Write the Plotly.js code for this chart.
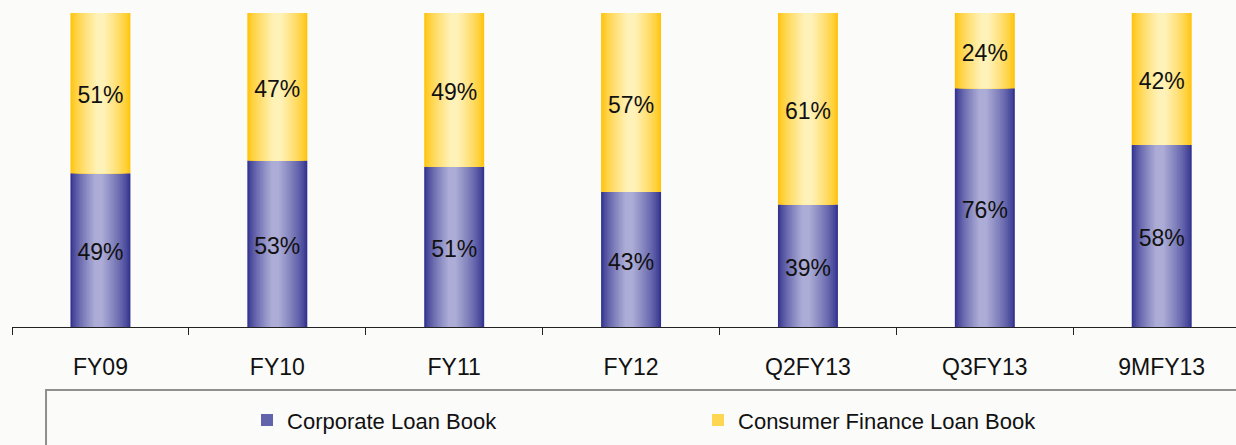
<!DOCTYPE html>
<html>
<head>
<meta charset="utf-8">
<script src="https://cdn.plot.ly/plotly-3.0.1.min.js"></script>
<style>
  html, body { margin: 0; padding: 0; background: #fbfbfa; }
  #chart { width: 1236px; height: 445px; }
</style>
</head>
<body>
<div id="chart"></div>
<script>
// ---- data ----
const categories = ['FY09', 'FY10', 'FY11', 'FY12', 'Q2FY13', 'Q3FY13', '9MFY13'];
const corporateLoanBook = [49, 53, 51, 43, 39, 76, 58];
const consumerFinanceLoanBook = [51, 47, 49, 57, 61, 24, 42];
const seriesNames = ['Corporate Loan Book', 'Consumer Finance Loan Book'];

// ---- styling ----
const BAR_W = 0.339;
const N_LAYERS = 18;
const LABEL_SHIFT = -1.4; // small downward nudge of value labels (axis units)
const blueEdge = [50, 50, 143], blueLight = [172, 172, 214];
const yellowEdge = [255, 196, 14], yellowLight = [255, 242, 184];

function mix(a, b, t) {
  return 'rgb(' + a.map((v, i) => Math.round(v + (b[i] - v) * t)).join(',') + ')';
}

const traces = [];
function addGradientBars(values, bases, edge, light, name, legendRank, peak) {
  for (let i = 0; i < N_LAYERS; i++) {
    const f = i / (N_LAYERS - 1);
    const t = Math.pow(f, 0.75);
    const w = BAR_W * (1 - 0.86 * f);
    traces.push({
      type: 'bar',
      x: categories,
      y: values,
      base: bases,
      width: w,
      offset: -BAR_W / 2 + (BAR_W - w) * peak,
      name: name,
      legendrank: legendRank,
      marker: { color: mix(edge, light, t), line: { width: 0 } },
      showlegend: i === 5,
      hoverinfo: 'skip'
    });
  }
}
const zeros = categories.map(() => 0);
addGradientBars(corporateLoanBook, zeros, blueEdge, blueLight, seriesNames[0], 1, 0.46);
addGradientBars(consumerFinanceLoanBook, corporateLoanBook, yellowEdge, yellowLight, seriesNames[1], 2, 0.5);

// value labels centred in each segment
const labelFont = { family: 'Liberation Sans, Arial, sans-serif', size: 23, color: '#111' };
traces.push({
  type: 'scatter', mode: 'text', x: categories,
  y: corporateLoanBook.map(v => v / 2 + LABEL_SHIFT),
  text: corporateLoanBook.map(v => v + '%'),
  textfont: labelFont,
  showlegend: false, hoverinfo: 'skip', cliponaxis: false
});
traces.push({
  type: 'scatter', mode: 'text', x: categories,
  y: consumerFinanceLoanBook.map((v, i) => corporateLoanBook[i] + v / 2 + LABEL_SHIFT),
  text: consumerFinanceLoanBook.map(v => v + '%'),
  textfont: labelFont,
  showlegend: false, hoverinfo: 'skip', cliponaxis: false
});

const layout = {
  width: 1236, height: 445,
  margin: { l: 12, r: 0, t: 13, b: 118 },
  paper_bgcolor: '#fbfbfa',
  plot_bgcolor: 'rgba(0,0,0,0)',
  barmode: 'overlay',
  font: { family: 'Liberation Sans, Arial, sans-serif', size: 22, color: '#111' },
  xaxis: {
    type: 'category',
    range: [-0.5, 6.42],
    showline: true, linecolor: '#222', linewidth: 1,
    ticks: 'outside', tickson: 'boundaries', ticklen: 7, tickcolor: '#222', tickwidth: 1,
    ticklabelstandoff: 19,
    tickfont: { size: 23, color: '#111' },
    showgrid: false, zeroline: false, fixedrange: true
  },
  yaxis: {
    range: [0, 100], visible: false, showgrid: false, zeroline: false, fixedrange: true
  },
  showlegend: true,
  legend: {
    orientation: 'h',
    x: 0.192, xanchor: 'left',
    y: -0.23, yanchor: 'top',
    bgcolor: 'rgba(0,0,0,0)', borderwidth: 0,
    entrywidth: 406,
    font: { size: 22, color: '#111' },
    traceorder: 'normal'
  },
  shapes: [{
    type: 'rect', xref: 'paper', yref: 'paper',
    x0: 0.0278, x1: 1.05, y0: -0.2006, y1: -0.6,
    line: { color: '#8f8f8f', width: 2 }, fillcolor: 'rgba(0,0,0,0)'
  }]
};

Plotly.newPlot('chart', traces, layout, { displayModeBar: false, staticPlot: true });
</script>
</body>
</html>
